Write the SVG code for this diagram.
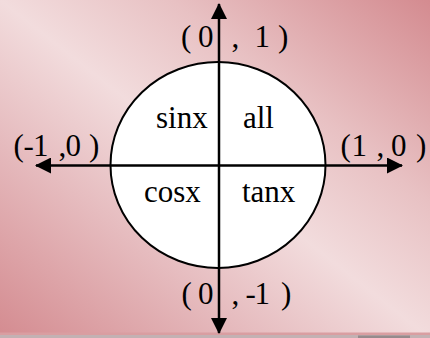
<svg xmlns="http://www.w3.org/2000/svg" width="430" height="338" viewBox="0 0 430 338">
<style>
.t{font-family:"Liberation Serif","Times New Roman",serif;font-size:31px;fill:#000}
.ax{stroke:#000;stroke-width:2.5;fill:none}
</style>
<defs>
<linearGradient id="bg" x1="0" y1="1" x2="1" y2="0">
<stop offset="0" stop-color="#d48b90"/>
<stop offset="0.3" stop-color="#e6bcbf"/>
<stop offset="0.5" stop-color="#f2dcdd"/>
<stop offset="0.7" stop-color="#e8c1c3"/>
<stop offset="1" stop-color="#d48b90"/>
</linearGradient>
<marker id="ah" viewBox="0 0 16 16" refX="15" refY="8" markerWidth="16" markerHeight="16" markerUnits="userSpaceOnUse" orient="auto">
<path d="M0,0 L16,8 L0,16 Z" fill="#000"/>
</marker>
</defs>
<rect width="430" height="338" fill="url(#bg)"/>
<rect x="0" y="332.5" width="430" height="2.5" fill="#d99ea1"/>
<rect x="0" y="335" width="430" height="3" fill="#c3b1b3"/>
<rect x="358" y="335.5" width="52" height="2.5" fill="#968a8c"/>
<g id="circle">
<ellipse cx="218" cy="165" rx="107.5" ry="103" fill="#fff" stroke="#000" stroke-width="2"/>
</g>
<g id="connectors">
<line class="ax" x1="219" y1="166" x2="219" y2="4" marker-end="url(#ah)"/>
<line class="ax" x1="219" y1="166" x2="219" y2="333" marker-end="url(#ah)"/>
<line class="ax" x1="219" y1="165.5" x2="36" y2="165.5" marker-end="url(#ah)"/>
<line class="ax" x1="219" y1="165.5" x2="402" y2="165.5" marker-end="url(#ah)"/>
</g>
<g id="q2"><text class="t" x="156" y="128">sinx</text></g>
<g id="q1"><text class="t" x="243" y="128">all</text></g>
<g id="q3"><text class="t" x="144" y="202">cosx</text></g>
<g id="q4"><text class="t" x="242" y="202">tanx</text></g>
<g id="top"><text class="t" y="47"><tspan x="181">(</tspan> <tspan x="198">0</tspan> <tspan x="231.5">,</tspan> <tspan x="254.5">1</tspan> <tspan x="278">)</tspan></text></g>
<g id="left"><text class="t" y="156"><tspan x="13.5">(</tspan><tspan x="23.5">-</tspan><tspan x="33">1</tspan> <tspan x="58.5">,</tspan><tspan x="65.5">0</tspan> <tspan x="89">)</tspan></text></g>
<g id="right"><text class="t" y="156"><tspan x="340.5">(</tspan><tspan x="351.5">1</tspan> <tspan x="376.5">,</tspan> <tspan x="391">0</tspan> <tspan x="416">)</tspan></text></g>
<g id="bottom"><text class="t" y="304"><tspan x="181.5">(</tspan> <tspan x="198">0</tspan> <tspan x="231.5">,</tspan> <tspan x="245.5">-</tspan><tspan x="254.5">1</tspan> <tspan x="281">)</tspan></text></g>
</svg>
